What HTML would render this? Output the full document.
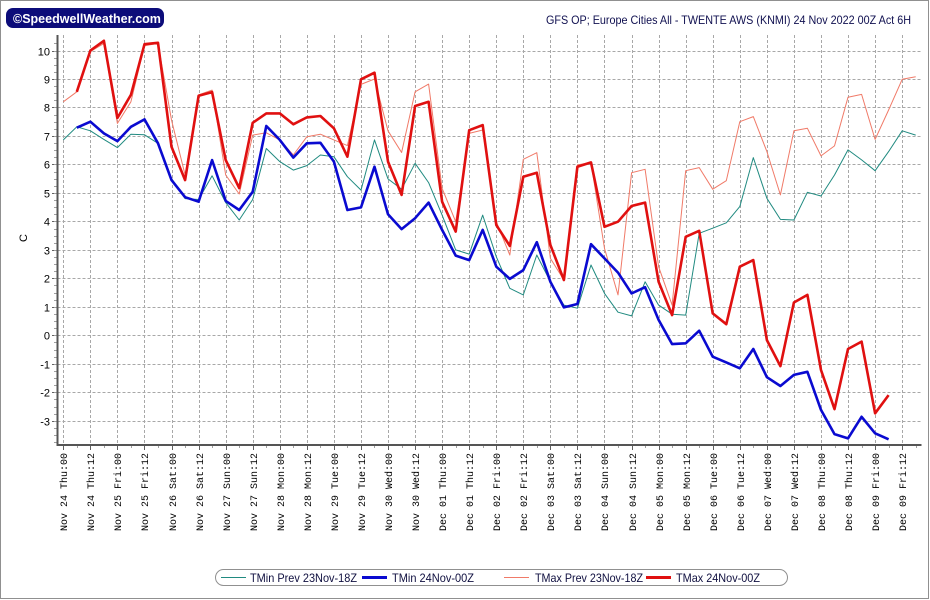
<!DOCTYPE html>
<html><head><meta charset="utf-8"><style>
body{margin:0;background:#fff;}
#wrap{position:relative;width:930px;height:600px;overflow:hidden;font-family:"Liberation Sans",sans-serif;}
svg{position:absolute;left:0;top:0;}
</style></head><body>
<div id="wrap">
<svg id="chart" width="930" height="600" xmlns="http://www.w3.org/2000/svg">
<rect x="0.5" y="0.5" width="928" height="598" fill="#fff" stroke="#909090"/>
<g>
<rect x="6" y="8" width="158" height="20" rx="7" fill="#0c0c7a"/>
<text x="13" y="23" fill="#fff" font-size="12.5" font-weight="bold" font-family="Liberation Sans, sans-serif">©SpeedwellWeather.com</text>
</g>
<text x="546" y="24" textLength="365" lengthAdjust="spacingAndGlyphs" fill="#101050" font-size="12">GFS OP; Europe Cities All - TWENTE AWS (KNMI) 24 Nov 2022 00Z Act 6H</text>
<text transform="translate(27,238) rotate(-90)" text-anchor="middle" font-size="11" fill="#000">C</text>
<g id="grid"></g>
<g id="axes"></g>
<g id="series"></g>
<g>
<rect x="215.5" y="569.5" width="572" height="16" rx="8" fill="#fff" stroke="#909090"/>
<g><line x1="221" y1="577.5" x2="246" y2="577.5" stroke="#208a80" stroke-width="1"/><text x="250" y="582" font-size="12" textLength="107" lengthAdjust="spacingAndGlyphs" fill="#101040">TMin Prev 23Nov-18Z</text></g>
<g><line x1="362" y1="577.5" x2="387" y2="577.5" stroke="#0a0ad0" stroke-width="3"/><text x="392" y="582" font-size="12" textLength="82" lengthAdjust="spacingAndGlyphs" fill="#101040">TMin 24Nov-00Z</text></g>
<g><line x1="504" y1="577.5" x2="529" y2="577.5" stroke="#f07a68" stroke-width="1"/><text x="535" y="582" font-size="12" textLength="108" lengthAdjust="spacingAndGlyphs" fill="#101040">TMax Prev 23Nov-18Z</text></g>
<g><line x1="646" y1="577.5" x2="671" y2="577.5" stroke="#e01010" stroke-width="3"/><text x="676" y="582" font-size="12" textLength="84" lengthAdjust="spacingAndGlyphs" fill="#101040">TMax 24Nov-00Z</text></g>
</g>
</svg>
</div>
<script>
const xLabels = ["Nov 24  Thu:00","Nov 24  Thu:12","Nov 25  Fri:00","Nov 25  Fri:12","Nov 26  Sat:00","Nov 26  Sat:12","Nov 27  Sun:00","Nov 27  Sun:12","Nov 28  Mon:00","Nov 28  Mon:12","Nov 29  Tue:00","Nov 29  Tue:12","Nov 30  Wed:00","Nov 30  Wed:12","Dec 01  Thu:00","Dec 01  Thu:12","Dec 02  Fri:00","Dec 02  Fri:12","Dec 03  Sat:00","Dec 03  Sat:12","Dec 04  Sun:00","Dec 04  Sun:12","Dec 05  Mon:00","Dec 05  Mon:12","Dec 06  Tue:00","Dec 06  Tue:12","Dec 07  Wed:00","Dec 07  Wed:12","Dec 08  Thu:00","Dec 08  Thu:12","Dec 09  Fri:00","Dec 09  Fri:12"];
const yTicks = [-3,-2,-1,0,1,2,3,4,5,6,7,8,9,10];
const tminPrevStart = 0;
const tminPrev = [6.86,7.32,7.18,6.88,6.59,7.06,7.04,6.74,5.51,4.8,4.77,5.6,4.66,4.05,4.77,6.56,6.1,5.8,5.96,6.33,6.27,5.57,5.1,6.86,5.49,5.13,6.04,5.36,4.22,3.0,2.85,4.22,2.76,1.65,1.42,2.82,1.88,1.06,0.95,2.47,1.47,0.81,0.68,1.88,1.06,0.74,0.71,3.58,3.76,3.95,4.52,6.24,4.81,4.07,4.05,5.02,4.89,5.63,6.51,6.16,5.78,6.45,7.18,7.03];
const tminStart = 1;
const tmin = [7.29,7.5,7.09,6.82,7.32,7.58,6.74,5.45,4.85,4.69,6.15,4.72,4.4,5.04,7.35,6.86,6.24,6.74,6.76,6.1,4.4,4.49,5.92,4.25,3.73,4.11,4.66,3.7,2.8,2.64,3.7,2.41,1.98,2.29,3.27,1.88,0.98,1.1,3.2,2.7,2.2,1.47,1.69,0.54,-0.31,-0.28,0.16,-0.75,-0.95,-1.16,-0.48,-1.47,-1.78,-1.39,-1.28,-2.62,-3.47,-3.62,-2.86,-3.44,-3.65];
const tmaxPrevStart = 0;
const tmaxPrev = [8.2,8.55,9.96,10.25,7.44,8.2,10.17,10.25,7.56,5.63,8.44,8.61,5.63,4.96,7.03,7.11,6.86,6.33,6.97,7.06,6.86,6.66,8.81,9.0,7.18,6.42,8.55,8.82,5.16,3.99,7.09,7.21,3.99,2.82,6.18,6.41,2.7,1.94,5.98,6.07,3.05,1.42,5.71,5.83,2.41,1.06,5.78,5.89,5.13,5.43,7.5,7.68,6.45,4.93,7.18,7.27,6.3,6.65,8.36,8.46,6.88,7.91,8.99,9.08];
const tmaxStart = 1;
const tmax = [8.55,10.0,10.34,7.63,8.44,10.22,10.27,6.62,5.45,8.41,8.54,6.15,5.17,7.46,7.79,7.79,7.41,7.65,7.7,7.27,6.27,8.99,9.22,6.1,4.93,8.05,8.2,4.69,3.64,7.2,7.38,3.87,3.14,5.57,5.71,3.17,1.94,5.92,6.07,3.81,3.99,4.54,4.66,1.88,0.71,3.46,3.67,0.77,0.39,2.41,2.64,-0.17,-1.08,1.15,1.42,-1.22,-2.59,-0.48,-0.22,-2.74,-2.1];

const NS='http://www.w3.org/2000/svg';
const X0=63.3, STEP=13.53, Y0=335.3, YU=28.48;
const PL=57.5, PR=921.5, PT=35, PB=445;
function xs(i){return X0+i*STEP;}
function ys(v){return Y0-v*YU;}
function mk(tag,attrs,parent){const e=document.createElementNS(NS,tag);for(const k in attrs)e.setAttribute(k,attrs[k]);parent.appendChild(e);return e;}
const grid=document.getElementById('grid'), axes=document.getElementById('axes'), ser=document.getElementById('series');
yTicks.forEach(v=>{
  const y=Math.round(ys(v))+0.5;
  const g=mk('line',{x1:PL,x2:PR,y1:y,y2:y,stroke:'#a8a8a8','stroke-dasharray':'3,2','stroke-width':1},grid);
  
  
  const t=mk('text',{x:50,y:y+4,'text-anchor':'end','font-size':11,fill:'#000'},axes);
  t.textContent=String(v);
  
  
  mk('line',{x1:52,x2:57,y1:y,y2:y,stroke:'#606060'},axes);
});
for(let v=-3.75;v<=10.4;v+=0.25){const y=Math.round(ys(v))+0.5;mk('line',{x1:54,x2:57,y1:y,y2:y,stroke:'#a0a0a0'},axes);}
xLabels.forEach((lab,k)=>{
  const x=Math.round(xs(k*2))+0.5;
  const g=mk('line',{x1:x,x2:x,y1:PT,y2:PB,stroke:'#a8a8a8','stroke-dasharray':'3,2','stroke-width':1},grid);
  
  
  mk('line',{x1:x,x2:x,y1:PB,y2:PB+5,stroke:'#606060'},axes);
  const t=mk('text',{transform:'translate('+(x+3.5)+',453) rotate(-90)','text-anchor':'end','font-size':10,'font-family':'Liberation Mono, monospace',fill:'#000','xml:space':'preserve'},axes);
  t.textContent=lab;
  
  
});
for(let i=1;i<=63;i+=2){const x=Math.round(xs(i))+0.5;mk('line',{x1:x,x2:x,y1:PB,y2:PB+3,stroke:'#a0a0a0'},axes);}
const ya=mk('line',{x1:PL,x2:PL,y1:PT,y2:PB+1,stroke:'#555','stroke-width':2},axes);


const xa=mk('line',{x1:PL-1,x2:PR,y1:PB,y2:PB,stroke:'#555','stroke-width':2},axes);


function line(arr,start,color,w,name){
  const pts=arr.map((v,i)=>xs(start+i).toFixed(1)+','+ys(v).toFixed(1)).join(' ');
  const p=mk('polyline',{points:pts,fill:'none',stroke:color,'stroke-width':w,'stroke-linejoin':'round'},ser);
  
  
}
line(tminPrev,tminPrevStart,'#208a80',1,'tmin-prev-line');
line(tmaxPrev,tmaxPrevStart,'#f07a68',1,'tmax-prev-line');
line(tmin,tminStart,'#0a0ad0',2.6,'tmin-line');
line(tmax,tmaxStart,'#e01010',2.6,'tmax-line');
</script>
</body></html>
